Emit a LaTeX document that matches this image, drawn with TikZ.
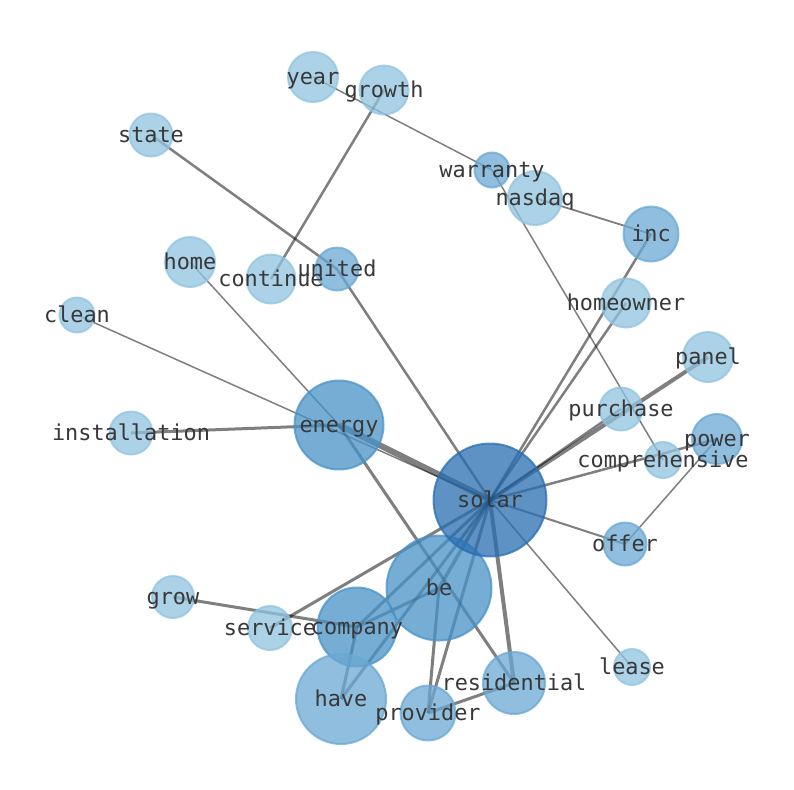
\documentclass[tikz,border=0pt]{standalone}
\usepackage{fontspec}
\newfontfamily\lblfont{DejaVu Sans Mono}
\definecolor{cA}{RGB}{40,110,178}
\definecolor{cB}{RGB}{71,146,199}
\definecolor{cC}{RGB}{106,168,211}
\definecolor{cD}{RGB}{144,195,224}
\definecolor{txt}{RGB}{56,56,56}
\pgfdeclarelayer{bg}
\pgfsetlayers{bg,main}
\tikzset{
  vtx/.style={circle, inner sep=0pt, line width=1.5pt, draw opacity=0.75, fill opacity=0.75},
  lbl/.style={inner sep=0pt, text height=0.76em, text depth=0.24em, anchor=center, text=txt,
    yshift=-3pt, font=\lblfont\fontsize{16.4}{18}\selectfont},
  edge/.style={draw=black, draw opacity=0.5, line width=#1*0.75pt},
}
\begin{document}
\begin{tikzpicture}[x=0.75pt,y=-0.75pt]
\useasboundingbox (0,0) rectangle (794,790);
\foreach \n/\x/\y/\r/\c in {
  year/313/77/25/cD, growth/384/90/24.5/cD, warranty/492/170/17.5/cC,
  nasdaq/535/198/27/cD, inc/651/234/27.5/cC, state/151/135/21.5/cD,
  home/190/262/25/cD, continue/271/279/24.5/cD, united/337/269/21.5/cC,
  clean/77/315/17.5/cD, homeowner/626/303/24.5/cD, panel/708/357/25/cD,
  installation/131/433/21.5/cD, energy/339/425/44.5/cB, purchase/621/409/21.5/cD,
  power/717/439/25/cC, comprehensive/663/460/18/cD, offer/625/544/21.5/cC,
  grow/173/597/21/cD, service/270/628/22/cD, company/357/627/39.5/cB,
  lease/632/667/18/cD, residential/514/683/31/cC, have/341/699/45/cC,
  provider/428/713/27.5/cC, be/439/588/52.5/cB, solar/490/500/56.5/cA}
{
  \node[vtx, draw=\c, fill=\c, minimum size=\r*1.5pt] (\n) at (\x,\y) {};
}
\begin{pgfonlayer}{bg}
\foreach \a/\b/\w in {
  year/warranty/1.5, growth/continue/2.5, warranty/comprehensive/1.5,
  nasdaq/inc/1.8, inc/solar/2.5, homeowner/solar/2.5, panel/solar/4,
  purchase/solar/2.5, power/solar/2.5, power/offer/1.5, offer/solar/2,
  lease/solar/1.5, residential/solar/4, provider/solar/3, be/solar/3.5,
  have/solar/3, company/solar/3, service/solar/3, energy/solar/6,
  home/energy/1.5, clean/solar/1.5, installation/energy/3, united/solar/2.5,
  state/united/2.5, energy/residential/3, grow/company/3, company/be/3,
  company/have/3, provider/be/3, provider/residential/3}
{
  \draw[edge=\w] (\a.center) -- (\b.center);
}
\end{pgfonlayer}
\foreach \n in {year,growth,warranty,nasdaq,inc,state,home,continue,united,clean,
  homeowner,panel,installation,energy,purchase,power,comprehensive,offer,grow,
  service,company,lease,residential,have,provider,be,solar}
{
  \node[lbl] (t-\n) at (\n.center) {\n};
}
\end{tikzpicture}
\end{document}
